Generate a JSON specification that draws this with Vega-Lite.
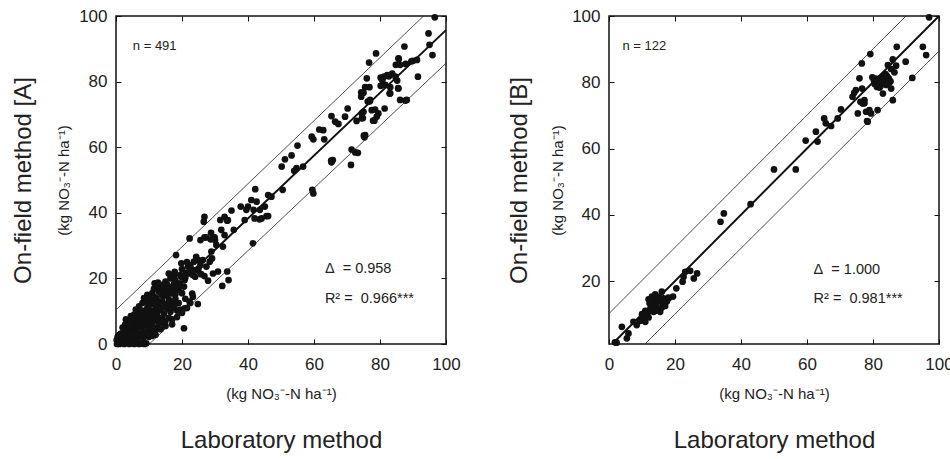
{
  "$schema": "https://vega.github.io/schema/vega-lite/v6.json",
  "padding": {"left": 10, "top": 6, "right": 0, "bottom": 0},
  "spacing": 45,
  "datasets": {
    "a": [
      {"x":96.6,"y":99.6},{"x":94.7,"y":94.7},{"x":95.0,"y":91.2},{"x":95.9,"y":88.1},{"x":91.2,"y":86.6},{"x":89.9,"y":86.3},{"x":87.4,"y":90.7},{"x":78.8,"y":88.6},{"x":76.7,"y":85.8},{"x":85.6,"y":87.1},{"x":84.8,"y":85.1},{"x":86.1,"y":85.1},{"x":87.8,"y":85.4},{"x":76.0,"y":81.0},{"x":80.2,"y":81.2},{"x":80.7,"y":80.4},{"x":82.2,"y":82.0},{"x":81.2,"y":81.5},{"x":82.7,"y":81.6},{"x":83.7,"y":82.4},{"x":84.7,"y":81.5},{"x":85.2,"y":80.3},{"x":91.5,"y":81.5},{"x":75.5,"y":78.3},{"x":76.8,"y":78.3},{"x":75.0,"y":76.6},{"x":74.3,"y":75.4},{"x":83.1,"y":78.3},{"x":81.6,"y":79.0},{"x":80.2,"y":78.7},{"x":85.6,"y":77.9},{"x":83.1,"y":76.4},{"x":86.1,"y":74.4},{"x":88.1,"y":74.4},{"x":77.0,"y":74.4},{"x":76.3,"y":73.9},{"x":77.5,"y":71.3},{"x":78.5,"y":71.5},{"x":79.5,"y":70.3},{"x":79.0,"y":69.3},{"x":81.4,"y":71.8},{"x":75.0,"y":70.8},{"x":74.5,"y":68.8},{"x":78.3,"y":68.1},{"x":70.2,"y":71.8},{"x":69.4,"y":69.3},{"x":65.3,"y":69.5},{"x":66.4,"y":67.8},{"x":67.4,"y":67.1},{"x":72.9,"y":68.0},{"x":74.5,"y":70.3},{"x":61.6,"y":65.4},{"x":62.8,"y":65.2},{"x":63.1,"y":62.4},{"x":59.3,"y":63.2},{"x":59.8,"y":62.4},{"x":55.0,"y":60.5},{"x":51.2,"y":56.3},{"x":53.2,"y":57.5},{"x":50.2,"y":54.1},{"x":56.7,"y":54.1},{"x":54.7,"y":53.6},{"x":54.0,"y":52.8},{"x":50.5,"y":47.0},{"x":59.5,"y":47.0},{"x":59.8,"y":45.9},{"x":65.7,"y":56.1},{"x":65.3,"y":55.4},{"x":71.4,"y":59.3},{"x":73.3,"y":58.3},{"x":71.2,"y":54.6},{"x":75.5,"y":63.7},{"x":75.3,"y":63.0},{"x":46.1,"y":45.4},{"x":47.1,"y":44.9},{"x":42.2,"y":47.2},{"x":41.0,"y":43.9},{"x":42.6,"y":43.4},{"x":40.0,"y":41.9},{"x":41.7,"y":40.9},{"x":43.6,"y":40.9},{"x":45.1,"y":41.9},{"x":45.6,"y":39.0},{"x":42.0,"y":38.3},{"x":44.1,"y":38.3},{"x":37.8,"y":41.9},{"x":39.5,"y":40.9},{"x":39.0,"y":37.8},{"x":35.0,"y":40.7},{"x":32.9,"y":38.8},{"x":33.9,"y":37.8},{"x":31.6,"y":37.8},{"x":35.7,"y":34.8},{"x":26.8,"y":38.8},{"x":26.6,"y":37.3},{"x":22.3,"y":32.2},{"x":25.6,"y":31.7},{"x":26.8,"y":32.5},{"x":28.7,"y":31.9},{"x":29.9,"y":32.5},{"x":31.9,"y":34.8},{"x":32.9,"y":33.2},{"x":30.4,"y":30.2},{"x":32.4,"y":29.7},{"x":28.9,"y":28.2},{"x":41.5,"y":30.7},{"x":33.7,"y":22.1},{"x":34.1,"y":19.5},{"x":32.2,"y":17.7},{"x":30.9,"y":22.1},{"x":29.4,"y":21.5},{"x":27.9,"y":19.3},{"x":18.2,"y":27.1},{"x":19.8,"y":24.6},{"x":24.3,"y":26.6},{"x":24.8,"y":25.6},{"x":23.6,"y":25.1},{"x":25.6,"y":24.1},{"x":26.3,"y":25.6},{"x":27.4,"y":23.6},{"x":28.4,"y":25.1},{"x":29.1,"y":26.1},{"x":21.8,"y":23.6},{"x":22.8,"y":22.8},{"x":21.3,"y":21.7},{"x":23.3,"y":21.0},{"x":24.8,"y":22.4},{"x":25.8,"y":21.3},{"x":26.8,"y":20.7},{"x":19.8,"y":20.5},{"x":20.8,"y":19.5},{"x":19.3,"y":18.5},{"x":20.6,"y":17.5},{"x":16.7,"y":20.5},{"x":17.7,"y":21.0},{"x":23.1,"y":15.4},{"x":23.3,"y":14.4},{"x":24.8,"y":12.2},{"x":22.3,"y":12.9},{"x":20.8,"y":10.9},{"x":19.8,"y":9.9},{"x":20.6,"y":4.8},{"x":11.7,"y":18.5},{"x":12.7,"y":18.7},{"x":15.7,"y":17.5},{"x":14.7,"y":16.5},{"x":13.7,"y":15.4},{"x":15.2,"y":14.9},{"x":16.7,"y":15.4},
      {"x":74.8,"y":68.9},{"x":77.9,"y":68.1},{"x":74.3,"y":76.7},{"x":76.9,"y":74.0},{"x":82.9,"y":76.4},{"x":85.5,"y":78.0},{"x":87.7,"y":74.2},{"x":89.5,"y":86.2},{"x":85.7,"y":86.9},{"x":72.5,"y":58.4},{"x":75.1,"y":63.5},{"x":65.2,"y":55.9},{"x":46.1,"y":39.0},{"x":43.5,"y":38.0},{"x":33.7,"y":37.6},{"x":30.0,"y":31.7},{"x":27.3,"y":32.5},{"x":28.8,"y":33.9},
      {"x":0.3,"y":0},{"x":1.0,"y":0},{"x":1.8,"y":0.2},{"x":2.5,"y":0},{"x":3.2,"y":0.3},{"x":4.0,"y":0},{"x":4.8,"y":0.2},{"x":5.5,"y":0},{"x":6.3,"y":0.2},{"x":7.0,"y":0},{"x":7.8,"y":0.1},{"x":8.6,"y":0},{"x":9.2,"y":0.2},
      {"x":0.2,"y":1.2},{"x":0.5,"y":2.2},{"x":1.2,"y":1.5},{"x":2.0,"y":1.0},{"x":2.8,"y":1.8},{"x":3.5,"y":1.2},{"x":4.2,"y":2.0},{"x":5.0,"y":1.5},{"x":5.8,"y":2.1},{"x":6.5,"y":1.4},{"x":7.3,"y":2.2},{"x":8.2,"y":1.8},{"x":9.0,"y":2.4},{"x":10.0,"y":2.2},{"x":11.0,"y":2.5},
      {"x":1.5,"y":3.2},{"x":2.4,"y":4.0},{"x":3.0,"y":3.0},{"x":3.8,"y":4.5},{"x":4.5,"y":3.5},{"x":5.2,"y":5.0},{"x":6.0,"y":4.0},{"x":6.8,"y":3.2},{"x":7.5,"y":5.0},{"x":8.3,"y":4.0},{"x":9.2,"y":3.5},{"x":10.0,"y":5.0},{"x":10.8,"y":4.2},{"x":11.8,"y":3.8},{"x":12.5,"y":5.0},{"x":13.5,"y":4.5},
      {"x":2.8,"y":6.0},{"x":3.6,"y":5.5},{"x":4.2,"y":7.0},{"x":5.0,"y":6.2},{"x":5.8,"y":7.5},{"x":6.5,"y":6.0},{"x":7.2,"y":7.8},{"x":8.0,"y":6.5},{"x":8.8,"y":8.0},{"x":9.5,"y":6.8},{"x":10.3,"y":7.5},{"x":11.0,"y":6.0},{"x":12.0,"y":7.2},{"x":13.0,"y":6.5},{"x":14.0,"y":7.8},{"x":15.0,"y":7.0},{"x":16.0,"y":8.0},{"x":17.0,"y":7.5},
      {"x":4.5,"y":8.5},{"x":5.5,"y":9.0},{"x":6.5,"y":9.5},{"x":7.5,"y":8.8},{"x":8.5,"y":10.0},{"x":9.2,"y":9.2},{"x":10.0,"y":10.5},{"x":11.0,"y":9.0},{"x":11.8,"y":10.2},{"x":12.5,"y":9.5},{"x":13.5,"y":10.5},{"x":14.5,"y":9.2},{"x":15.5,"y":10.8},{"x":16.5,"y":9.8},{"x":17.5,"y":11.0},{"x":18.5,"y":10.2},
      {"x":7.0,"y":11.5},{"x":8.0,"y":12.5},{"x":9.0,"y":13.0},{"x":10.0,"y":11.8},{"x":10.8,"y":13.5},{"x":11.5,"y":12.2},{"x":12.3,"y":13.8},{"x":13.0,"y":11.5},{"x":14.0,"y":13.0},{"x":15.0,"y":12.0},{"x":16.0,"y":13.5},{"x":17.0,"y":12.5},{"x":18.0,"y":13.8},{"x":19.0,"y":12.5},
      {"x":10.0,"y":14.5},{"x":11.0,"y":15.5},{"x":12.0,"y":14.2},{"x":13.0,"y":16.0},{"x":14.0,"y":14.8},{"x":15.0,"y":16.5},{"x":16.0,"y":15.5},{"x":17.0,"y":16.8},{"x":18.0,"y":15.2},{"x":19.0,"y":17.0},{"x":12.5,"y":17.5},{"x":14.0,"y":18.0},
      {"x":15.0,"y":19.0},{"x":16.5,"y":20.0},{"x":18.0,"y":19.5},{"x":19.5,"y":21.0},{"x":21.0,"y":20.2},{"x":22.0,"y":21.5},{"x":23.5,"y":22.5},{"x":25.0,"y":23.0},{"x":22.5,"y":24.0},{"x":24.0,"y":20.5},
      {"x":15.0,"y":5.5},{"x":17.0,"y":6.0},{"x":18.5,"y":8.2},{"x":20.0,"y":9.5},{"x":21.5,"y":11.0},{"x":22.5,"y":12.5},{"x":19.5,"y":10.5},
      {"x":1.0,"y":2.8},{"x":2.0,"y":2.5},{"x":3.3,"y":2.2},{"x":4.6,"y":2.8},{"x":6.0,"y":2.8},{"x":7.7,"y":3.0},{"x":9.8,"y":3.0},{"x":12.0,"y":2.8},{"x":2.0,"y":5.0},{"x":3.0,"y":7.5},{"x":4.0,"y":6.0},{"x":6.2,"y":5.2},{"x":7.0,"y":6.8},{"x":8.7,"y":5.8},{"x":9.8,"y":8.5},{"x":11.5,"y":8.2},{"x":12.8,"y":8.0},{"x":14.2,"y":6.3},{"x":6.0,"y":10.5},{"x":7.8,"y":10.2},{"x":9.5,"y":11.0},{"x":10.5,"y":12.8},{"x":12.0,"y":11.5},{"x":13.2,"y":12.8},{"x":14.8,"y":11.2},{"x":16.2,"y":11.8},{"x":18.0,"y":12.2},{"x":8.5,"y":14.0},{"x":9.5,"y":15.0},{"x":11.5,"y":16.8},{"x":13.5,"y":17.0},{"x":15.5,"y":18.0},{"x":17.5,"y":18.2},{"x":18.5,"y":16.5},{"x":20.0,"y":15.5},{"x":21.0,"y":13.8},{"x":16.0,"y":21.5},{"x":17.8,"y":22.0},{"x":20.0,"y":22.8},{"x":21.5,"y":25.0}
    ],
    "b": [
      {"x":97.0,"y":99.6},{"x":87.2,"y":90.7},{"x":95.1,"y":90.7},{"x":96.1,"y":88.2},{"x":79.2,"y":88.5},{"x":76.6,"y":85.7},{"x":86.0,"y":86.9},{"x":89.9,"y":86.2},{"x":84.5,"y":85.2},{"x":87.0,"y":85.0},{"x":75.9,"y":81.2},{"x":80.3,"y":80.6},{"x":80.8,"y":81.1},{"x":82.3,"y":81.3},{"x":83.3,"y":82.1},{"x":83.8,"y":82.5},{"x":84.3,"y":81.8},{"x":84.8,"y":81.1},{"x":85.3,"y":80.3},{"x":82.5,"y":80.3},{"x":91.9,"y":81.3},{"x":76.7,"y":78.1},{"x":74.3,"y":76.8},{"x":74.8,"y":77.6},{"x":73.8,"y":75.6},{"x":81.2,"y":78.6},{"x":82.0,"y":78.4},{"x":82.3,"y":78.9},{"x":85.0,"y":79.9},{"x":85.5,"y":78.1},{"x":83.0,"y":76.6},{"x":86.0,"y":74.6},{"x":77.4,"y":74.6},{"x":76.9,"y":73.6},{"x":76.2,"y":74.1},{"x":75.4,"y":70.6},{"x":77.9,"y":71.1},{"x":78.9,"y":71.6},{"x":79.4,"y":70.6},{"x":78.4,"y":68.1},{"x":81.4,"y":71.6},{"x":70.3,"y":71.8},{"x":69.3,"y":69.1},{"x":65.2,"y":69.1},{"x":67.3,"y":66.8},{"x":65.7,"y":67.6},{"x":62.7,"y":65.1},{"x":63.2,"y":62.1},{"x":59.6,"y":62.4},{"x":50.0,"y":53.7},{"x":56.6,"y":53.7},{"x":42.9,"y":43.2},{"x":34.8,"y":40.4},{"x":33.8,"y":37.9},{"x":24.6,"y":23.1},{"x":26.7,"y":22.3},{"x":23.1,"y":22.8},{"x":22.6,"y":21.3},{"x":22.3,"y":19.8},{"x":25.7,"y":20.8},{"x":20.4,"y":17.8},{"x":19.4,"y":15.3},{"x":18.1,"y":14.8},
      {"x":80.5,"y":79.5},{"x":83.5,"y":80.8},{"x":84.0,"y":79.2},{"x":86.5,"y":83.0},{"x":85.5,"y":84.0},{"x":81.0,"y":80.0},{"x":79.8,"y":81.5},{"x":78.2,"y":68.3},{"x":77.4,"y":73.7},
      {"x":16.0,"y":16.8},{"x":14.5,"y":15.3},{"x":13.5,"y":14.3},{"x":13.0,"y":15.3},{"x":12.5,"y":13.8},{"x":15.0,"y":13.8},{"x":16.0,"y":13.8},{"x":16.5,"y":13.3},{"x":17.5,"y":13.8},{"x":14.0,"y":12.8},{"x":12.7,"y":12.3},{"x":14.5,"y":11.8},{"x":12.0,"y":10.7},{"x":11.3,"y":10.2},{"x":10.4,"y":9.2},{"x":11.0,"y":7.7},{"x":9.4,"y":8.2},{"x":8.4,"y":6.7},{"x":7.4,"y":7.7},{"x":5.9,"y":4.2},{"x":5.4,"y":2.7},{"x":3.9,"y":6.2},{"x":2.3,"y":1.4},{"x":1.8,"y":1.5},{"x":15.5,"y":10.7},{"x":13.5,"y":10.7},{"x":16.5,"y":14.8},{"x":12.3,"y":13.3},{"x":13.3,"y":11.8},
      {"x":14.0,"y":16.0},{"x":15.0,"y":15.0},{"x":13.5,"y":13.0},{"x":12.0,"y":14.5},{"x":17.0,"y":12.5},{"x":18.0,"y":15.0},{"x":16.0,"y":12.0},{"x":11.0,"y":11.0},{"x":10.0,"y":10.0},{"x":9.5,"y":8.0},{"x":12.0,"y":9.0},{"x":14.0,"y":11.0}
    ],
    "linesA": [
      {"kind":"fit","x":0,"y":0},{"kind":"fit","x":100,"y":95.7},
      {"kind":"upper","x":0,"y":10.4},{"kind":"upper","x":93.2,"y":100},
      {"kind":"lower","x":10.1,"y":0},{"kind":"lower","x":100,"y":85.6}
    ],
    "linesB": [
      {"kind":"fit","x":1,"y":1},{"kind":"fit","x":100,"y":100},
      {"kind":"upper","x":0,"y":10.2},{"kind":"upper","x":90,"y":100},
      {"kind":"lower","x":10.9,"y":1},{"kind":"lower","x":100,"y":89.4}
    ],
    "statsA": [{"x":63.3,"y":22.8,"label":"Δ\u00a0\u00a0=\u00a00.958"},{"x":63.3,"y":13.7,"label":"R²\u00a0=\u00a0\u00a00.966***"}],
    "statsB": [{"x":62.0,"y":23.3,"label":"Δ\u00a0\u00a0=\u00a01.000"},{"x":62.0,"y":14.6,"label":"R²\u00a0=\u00a0\u00a00.981***"}],
    "nA": [{"x":5.1,"y":91.0,"label":"n = 491"}],
    "nB": [{"x":4.1,"y":91.0,"label":"n = 122"}]
  },
  "hconcat": [
    {
      "width": 330, "height": 328,
      "layer": [
        {
          "data": {"name": "a"},
          "mark": {"type": "circle", "size": 45, "color": "#111", "opacity": 1},
          "encoding": {
            "x": {"field": "x", "type": "quantitative", "scale": {"domain": [0, 100], "nice": false},
                  "axis": {"orient": "bottom", "values": [0,20,40,60,80,100], "ticks": false, "labelPadding": 12, "title": null}},
            "y": {"field": "y", "type": "quantitative", "scale": {"domain": [0, 100], "nice": false},
                  "axis": {"orient": "left", "values": [0,20,40,60,80,100], "ticks": false, "labelPadding": 9, "title": null}}
          }
        },
        {
          "data": {"name": "linesA"},
          "transform": [{"filter": "datum.kind == 'fit'"}],
          "mark": {"type": "line", "color": "#111", "strokeWidth": 2},
          "encoding": {
            "x": {"field": "x", "type": "quantitative", "scale": {"domain": [0, 100], "nice": false},
                  "axis": {"orient": "top", "values": [0,20,40,60,80,100], "labels": false, "tickSize": -5, "title": null}},
            "y": {"field": "y", "type": "quantitative", "scale": {"domain": [0, 100], "nice": false},
                  "axis": {"orient": "right", "values": [0,20,40,60,80,100], "labels": false, "tickSize": -5, "title": null}}
          }
        },
        {
          "data": {"name": "linesA"},
          "transform": [{"filter": "datum.kind != 'fit'"}],
          "mark": {"type": "line", "color": "#222", "strokeWidth": 0.8},
          "encoding": {
            "detail": {"field": "kind"},
            "x": {"field": "x", "type": "quantitative", "scale": {"domain": [0, 100], "nice": false},
                  "axis": {"orient": "bottom", "values": [0,20,40,60,80,100], "labels": false, "tickSize": -5, "title": "(kg NO₃⁻-N ha⁻¹)", "titleFontSize": 15, "titlePadding": 42}},
            "y": {"field": "y", "type": "quantitative", "scale": {"domain": [0, 100], "nice": false},
                  "axis": {"orient": "left", "values": [0,20,40,60,80,100], "labels": false, "tickSize": -5, "title": "(kg NO₃⁻-N ha⁻¹)", "titleFontSize": 15, "titlePadding": 44}}
          }
        },
        {
          "data": {"name": "statsA"},
          "mark": {"type": "text", "align": "left", "baseline": "middle", "fontSize": 14.5, "color": "#222", "font": "Liberation Sans"},
          "encoding": {
            "text": {"field": "label"},
            "x": {"field": "x", "type": "quantitative", "scale": {"domain": [0, 100], "nice": false},
                  "axis": {"orient": "bottom", "labels": false, "ticks": false, "title": "Laboratory method", "titleFontSize": 24, "titlePadding": 84}},
            "y": {"field": "y", "type": "quantitative", "scale": {"domain": [0, 100], "nice": false},
                  "axis": {"orient": "left", "labels": false, "ticks": false, "title": "On-field method [A]", "titleFontSize": 24, "titlePadding": 81}}
          }
        },
        {
          "data": {"name": "nA"},
          "mark": {"type": "text", "align": "left", "baseline": "middle", "fontSize": 13, "color": "#222", "font": "Liberation Sans"},
          "encoding": {
            "text": {"field": "label"},
            "x": {"field": "x", "type": "quantitative", "scale": {"domain": [0, 100], "nice": false}, "axis": null},
            "y": {"field": "y", "type": "quantitative", "scale": {"domain": [0, 100], "nice": false}, "axis": null}
          }
        }
      ],
      "resolve": {"axis": {"x": "independent", "y": "independent"}}
    },
    {
      "width": 330, "height": 328,
      "layer": [
        {
          "data": {"name": "b"},
          "mark": {"type": "circle", "size": 45, "color": "#111", "opacity": 1},
          "encoding": {
            "x": {"field": "x", "type": "quantitative", "scale": {"domain": [0, 100], "nice": false},
                  "axis": {"orient": "bottom", "values": [0,20,40,60,80,100], "ticks": false, "labelPadding": 12, "title": null}},
            "y": {"field": "y", "type": "quantitative", "scale": {"domain": [1, 100], "nice": false},
                  "axis": {"orient": "left", "values": [20,40,60,80,100], "ticks": false, "labelPadding": 9, "title": null}}
          }
        },
        {
          "data": {"name": "linesB"},
          "transform": [{"filter": "datum.kind == 'fit'"}],
          "mark": {"type": "line", "color": "#111", "strokeWidth": 2},
          "encoding": {
            "x": {"field": "x", "type": "quantitative", "scale": {"domain": [0, 100], "nice": false},
                  "axis": {"orient": "top", "values": [0,20,40,60,80,100], "labels": false, "tickSize": -5, "title": null}},
            "y": {"field": "y", "type": "quantitative", "scale": {"domain": [1, 100], "nice": false},
                  "axis": {"orient": "right", "values": [20,40,60,80,100], "labels": false, "tickSize": -5, "title": null}}
          }
        },
        {
          "data": {"name": "linesB"},
          "transform": [{"filter": "datum.kind != 'fit'"}],
          "mark": {"type": "line", "color": "#222", "strokeWidth": 0.8},
          "encoding": {
            "detail": {"field": "kind"},
            "x": {"field": "x", "type": "quantitative", "scale": {"domain": [0, 100], "nice": false},
                  "axis": {"orient": "bottom", "values": [0,20,40,60,80,100], "labels": false, "tickSize": -5, "title": "(kg NO₃⁻-N ha⁻¹)", "titleFontSize": 15, "titlePadding": 42}},
            "y": {"field": "y", "type": "quantitative", "scale": {"domain": [1, 100], "nice": false},
                  "axis": {"orient": "left", "values": [20,40,60,80,100], "labels": false, "tickSize": -5, "title": "(kg NO₃⁻-N ha⁻¹)", "titleFontSize": 15, "titlePadding": 43}}
          }
        },
        {
          "data": {"name": "statsB"},
          "mark": {"type": "text", "align": "left", "baseline": "middle", "fontSize": 14.5, "color": "#222", "font": "Liberation Sans"},
          "encoding": {
            "text": {"field": "label"},
            "x": {"field": "x", "type": "quantitative", "scale": {"domain": [0, 100], "nice": false},
                  "axis": {"orient": "bottom", "labels": false, "ticks": false, "title": "Laboratory method", "titleFontSize": 24, "titlePadding": 84}},
            "y": {"field": "y", "type": "quantitative", "scale": {"domain": [1, 100], "nice": false},
                  "axis": {"orient": "left", "labels": false, "ticks": false, "title": "On-field method [B]", "titleFontSize": 24, "titlePadding": 78}}
          }
        },
        {
          "data": {"name": "nB"},
          "mark": {"type": "text", "align": "left", "baseline": "middle", "fontSize": 13, "color": "#222", "font": "Liberation Sans"},
          "encoding": {
            "text": {"field": "label"},
            "x": {"field": "x", "type": "quantitative", "scale": {"domain": [0, 100], "nice": false}, "axis": null},
            "y": {"field": "y", "type": "quantitative", "scale": {"domain": [1, 100], "nice": false}, "axis": null}
          }
        }
      ],
      "resolve": {"axis": {"x": "independent", "y": "independent"}}
    }
  ],
  "config": {
    "font": "Liberation Sans",
    "view": {"stroke": "#111", "strokeWidth": 1.5},
    "axis": {
      "grid": false, "domain": false,
      "labelFont": "Liberation Sans", "labelFontSize": 17, "labelColor": "#222",
      "tickColor": "#111", "tickWidth": 1,
      "titleFont": "Liberation Sans", "titleFontWeight": "normal", "titleColor": "#222",
      "labelFlush": false, "minExtent": 0
    }
  }
}
